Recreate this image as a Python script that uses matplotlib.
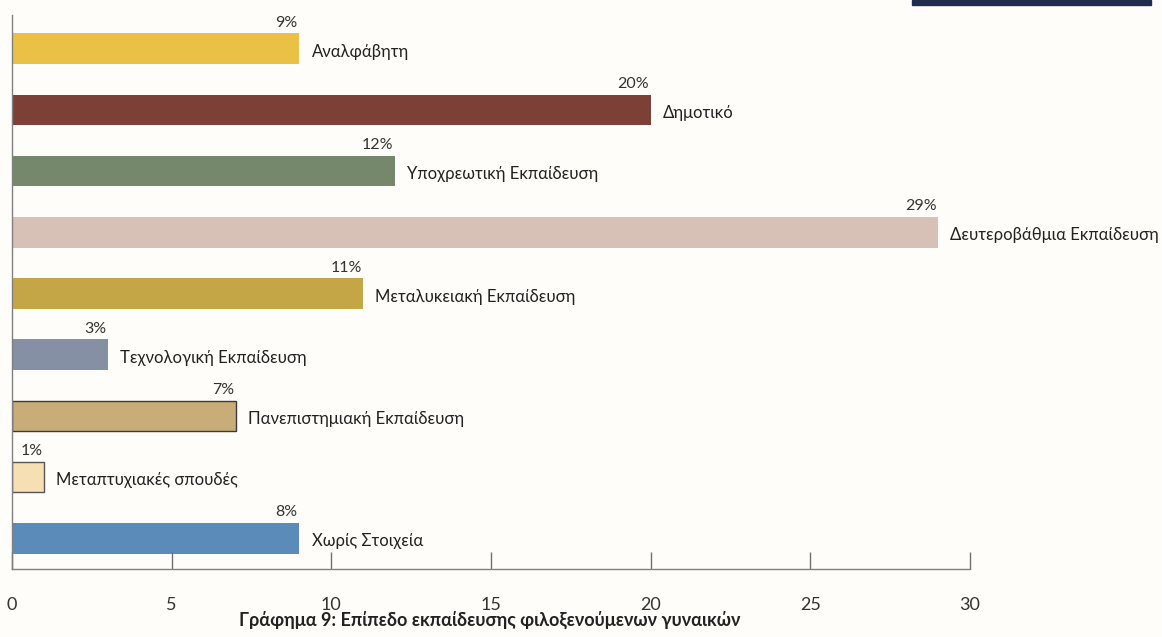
import matplotlib.pyplot as plt

categories = ['Αναλφάβητη', 'Δημοτικό', 'Υποχρεωτική Εκπαίδευση',
              'Δευτεροβάθμια Εκπαίδευση', 'Μεταλυκειακή Εκπαίδευση',
              'Τεχνολογική Εκπαίδευση', 'Πανεπιστημιακή Εκπαίδευση',
              'Μεταπτυχιακές σπουδές', 'Χωρίς Στοιχεία']
values = [9, 20, 12, 29, 11, 3, 7, 1, 9]
value_labels = ['9%', '20%', '12%', '29%', '11%', '3%', '7%', '1%', '8%']
colors = ['#EBC145', '#7D4036', '#76886B', '#D7C0B6', '#C5A646',
          '#8690A5', '#C9AD79', '#F6E0B3', '#5B8BB9']
edges = ['none', 'none', 'none', 'none', 'none', 'none', '#3a3a3a', '#555555', 'none']
xticks = [0, 5, 10, 15, 20, 25, 30]
caption = 'Γράφημα 9: Επίπεδο εκπαίδευσης φιλοξενούμενων γυναικών'

plt.rcParams['font.family'] = ['Lato', 'DejaVu Sans']
bg = '#FFFDF9'
fig = plt.figure(figsize=(11.62, 6.37), dpi=100, facecolor=bg)
ax = fig.add_axes([12/1162, 1 - 569/637, (970-12)/1162, (569-15)/637])
ax.set_facecolor(bg)

pos = list(range(len(categories)))
for i in pos:
    ax.barh(i, values[i], height=0.5, color=colors[i],
            edgecolor=edges[i], linewidth=1.0 if edges[i] != 'none' else 0)
    ax.text(values[i] - 0.05, i - 0.31, value_labels[i], ha='right', va='bottom',
            fontsize=11.5, color='#333333')
    ax.text(values[i] + 0.38, i + 0.05, categories[i], ha='left', va='center',
            fontsize=12, color='#222222', clip_on=False)

ax.set_xlim(0, 30)
ax.set_ylim(8.5, -0.55)
ax.set_yticks([])
ax.set_xticks(xticks)
ax.tick_params(axis='x', direction='in', length=12, width=1, color='#707070',
               labelsize=13, labelcolor='#333333', pad=20)
for s in ['top', 'right']:
    ax.spines[s].set_visible(False)
for s in ['left', 'bottom']:
    ax.spines[s].set_color('#808080')
    ax.spines[s].set_linewidth(1)

fig.text(490/1162, 1 - 620/637, caption, ha='center', va='center',
         fontsize=13, fontweight='bold', color='#222222')

# dark strip at top right (cropped header element)
fig.patches.append(plt.Rectangle((912/1162, 1 - 5/637), (1151-912)/1162, 5/637,
                                 transform=fig.transFigure, color='#1F2D4E'))

fig.savefig('out.png', dpi=100, facecolor=bg)
